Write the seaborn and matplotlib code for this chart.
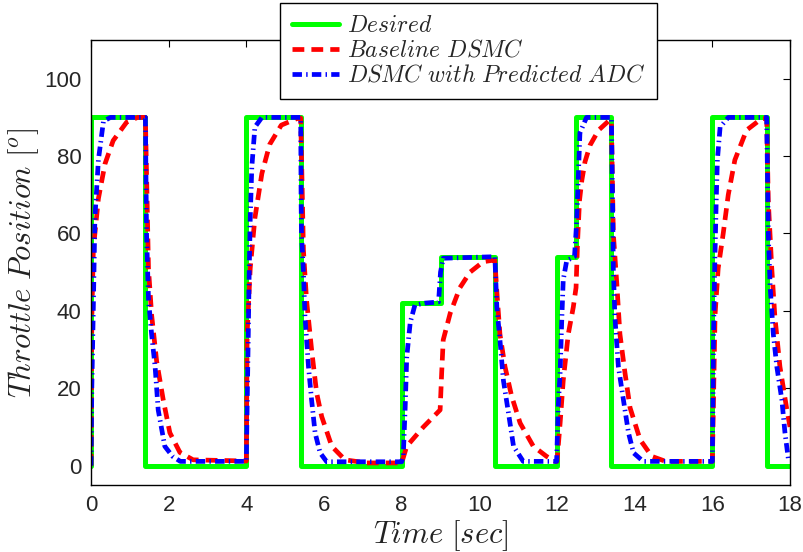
import matplotlib
matplotlib.use('Agg')
import matplotlib.pyplot as plt
import seaborn as sns
import pandas as pd

# desired throttle (step signal)
t_desired = [0.0, 0.0, 1.4, 1.4, 4.0, 4.0, 5.4, 5.4, 8.0, 8.0, 9.0, 9.0, 10.4, 10.4,
             12.0, 12.0, 12.5, 12.5, 13.4, 13.4, 16.0, 16.0, 17.4, 17.4, 18.0]
y_desired = [0, 90, 90, 0, 0, 90, 90, 0, 0, 42, 42, 54, 54, 0,
             0, 54, 54, 90, 90, 0, 0, 90, 90, 0, 0]

# baseline DSMC response
t_base = [0.0, 0.02, 0.06, 0.19, 0.36, 0.57, 0.92, 1.2, 1.4,
          1.48, 1.56, 1.69, 1.86, 2.03, 2.29, 2.63, 4.0,
          4.02, 4.1, 4.22, 4.4, 4.6, 4.9, 5.3, 5.4,
          5.47, 5.55, 5.68, 5.81, 5.94, 6.2, 6.54, 7.1, 8.0,
          8.13, 8.56, 8.99, 9.03, 9.07, 9.25, 9.5, 9.76, 10.1, 10.36, 10.4,
          10.45, 10.53, 10.66, 10.83, 11.05, 11.39, 11.73, 11.95, 12.0,
          12.08, 12.16, 12.29, 12.42, 12.49, 12.53, 12.58, 12.64, 12.72, 12.85, 13.07, 13.32, 13.4,
          13.45, 13.54, 13.62, 13.75, 13.88, 14.14, 14.44, 14.8, 16.0,
          16.07, 16.15, 16.28, 16.41, 16.58, 16.88, 17.27, 17.4,
          17.44, 17.53, 17.61, 17.74, 17.91, 18.0]
y_base = [0, 38, 56, 69, 78, 84, 88.8, 90, 90,
          51, 39, 27, 17, 8.5, 3.4, 1.5, 1.2,
          34, 51, 64, 75.5, 83, 88, 89.7, 89.8,
          55.7, 42.8, 30, 18.8, 12.7, 5, 1.5, 0.7, 0.7,
          5, 10, 14.4, 24, 32.5, 39.4, 46, 50, 52.7, 53.1, 53,
          45, 34, 25.6, 18, 11, 5, 2.4, 1.1, 1.1,
          11, 22, 34, 41, 46, 58, 68.6, 73.8, 78.5, 82.8, 86.7, 89, 89.3,
          60, 47, 34, 24, 15, 6.7, 2.4, 1.1, 1.1,
          39, 51, 60, 70, 79, 86.7, 89.7, 89.7,
          68.6, 51, 38.5, 25.6, 15, 10]

# DSMC with predicted ADC response
t_adc = [0.0, 0.02, 0.06, 0.1, 0.19, 0.32, 0.5, 1.4,
         1.43, 1.48, 1.56, 1.65, 1.73, 1.9, 2.1, 2.3, 4.0,
         4.01, 4.05, 4.07, 4.1, 4.14, 4.22, 4.4, 5.4,
         5.41, 5.42, 5.47, 5.51, 5.6, 5.68, 5.77, 5.9, 6.07, 8.0,
         8.04, 8.09, 8.13, 8.22, 8.34, 8.6, 8.95, 9.0, 9.07, 10.4,
         10.45, 10.53, 10.62, 10.75, 10.88, 11.13, 11.99,
         12.03, 12.08, 12.12, 12.16, 12.25, 12.45, 12.5, 12.55, 12.59, 12.76, 13.4,
         13.43, 13.45, 13.49, 13.58, 13.71, 13.84, 13.97, 14.22, 16.0,
         16.03, 16.06, 16.1, 16.13, 16.2, 16.41, 17.4,
         17.44, 17.49, 17.57, 17.66, 17.79, 17.87, 17.96, 18.0]
y_adc = [0, 20, 41, 64, 79, 89, 90, 90,
         60, 43, 34, 25.6, 14.4, 5, 2.4, 1.1, 1.1,
         8.5, 34, 48, 64, 77, 87.5, 90, 90,
         68.6, 60, 50, 38.5, 25.6, 17, 8.5, 3.3, 1, 1,
         2.4, 15, 28, 37, 41.5, 42, 42.3, 50, 53.6, 54,
         41, 32.5, 22, 13.6, 5, 1.1, 1.1,
         15, 24, 37, 48, 53, 54, 62, 75, 86, 90, 90,
         68.6, 51, 38.5, 25.6, 17, 8.5, 3.3, 1.1, 1.1,
         34, 51, 68.6, 79, 87.5, 90, 90,
         60, 46, 34, 25.6, 17, 8.5, 1.5, 1]

sns.set_style('white')
plt.rcParams['font.family'] = ['Liberation Sans', 'DejaVu Sans']
plt.rcParams['mathtext.fontset'] = 'cm'

fig = plt.figure(figsize=(8.04, 5.52), dpi=100)
ax = fig.add_axes([0.1132, 0.1214, 0.8694, 0.8061])

sns.lineplot(x=t_desired, y=y_desired, sort=False, estimator=None, ax=ax,
             color='#00ff00', linewidth=3.6, label=r'$Desired$')
sns.lineplot(x=t_base, y=y_base, sort=False, estimator=None, ax=ax,
             color='#ff0000', linewidth=3.4, label=r'$Baseline\ DSMC$')
sns.lineplot(x=t_adc, y=y_adc, sort=False, estimator=None, ax=ax,
             color='#0000ff', linewidth=3.4, label=r'$DSMC\ with\ Predicted\ ADC$')
ax.lines[1].set_dashes([2.5, 1.5])
ax.lines[2].set_dashes([2.0, 0.9, 0.3, 0.9])

ax.set_xlim(0, 18)
ax.set_ylim(-5, 110)
ax.set_xticks(range(0, 19, 2))
ax.set_yticks(range(0, 101, 20))
ax.tick_params(direction='in', top=True, right=True, length=5, width=0.8,
               labelsize=16, color='black', pad=7)
for s in ax.spines.values():
    s.set_color('black')
    s.set_linewidth(1.0)

ax.set_xlabel(r'$Time\ [sec]$', fontsize=22, color='#222222', labelpad=2)
ax.set_ylabel(r'$Throttle\ Position\ [^o]$', fontsize=22, color='#222222', labelpad=2)

leg = ax.legend(loc='upper center', bbox_to_anchor=(0.54, 1.0825), fontsize=17,
                frameon=True, fancybox=False, framealpha=1, edgecolor='black',
                handlelength=2.0, borderpad=0.5, labelspacing=0.12, handletextpad=0.35,
                borderaxespad=0)
leg.get_frame().set_linewidth(1.0)

fig.savefig('out.png', dpi=100)
